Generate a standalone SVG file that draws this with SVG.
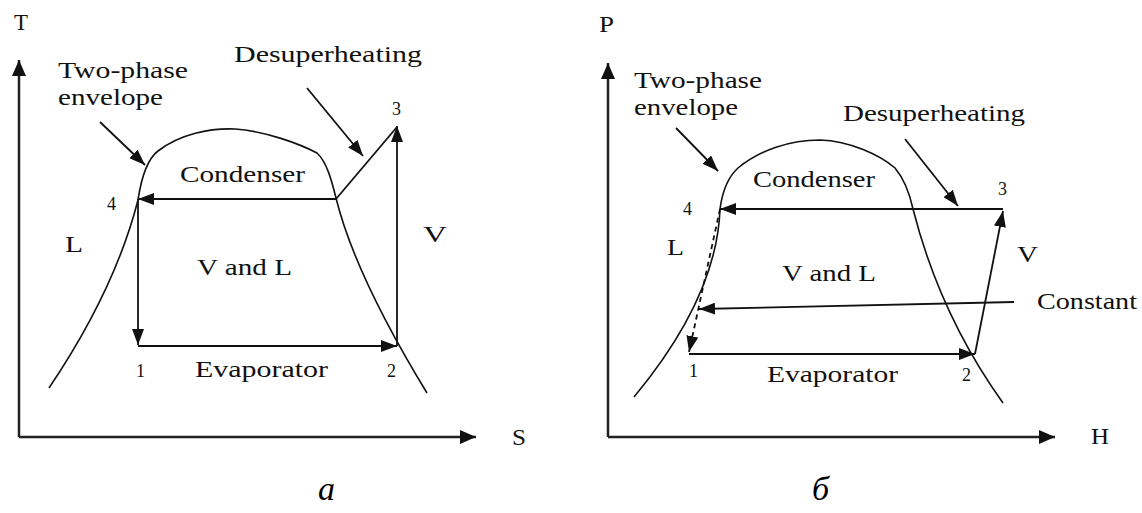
<svg xmlns="http://www.w3.org/2000/svg" width="1142" height="513" viewBox="0 0 1142 513">
<defs>
<style>
.t{font-family:"Liberation Serif","Times New Roman",serif;font-size:24px;fill:#111}
.n{font-family:"Liberation Serif","Times New Roman",serif;font-size:18px;fill:#111}
.ax{font-family:"Liberation Serif","Times New Roman",serif;font-size:23px;fill:#111}
.cap{font-family:"Liberation Serif","Times New Roman",serif;font-size:34px;font-style:italic;fill:#000}
.axis{fill:none;stroke:#222;stroke-width:2.5}
.ln{fill:none;stroke:#111;stroke-width:1.8}
.crv{fill:none;stroke:#111;stroke-width:1.6}
.dash{fill:none;stroke:#111;stroke-width:1.8;stroke-dasharray:5 4}
</style>
<marker id="axh" markerUnits="userSpaceOnUse" markerWidth="17" markerHeight="14" refX="16" refY="7" orient="auto"><path d="M0,0 L16,7 L0,14 z" fill="#111"/></marker>
<marker id="ah" markerUnits="userSpaceOnUse" markerWidth="17" markerHeight="12" refX="16" refY="6" orient="auto"><path d="M0,0 L16,6 L0,12 z" fill="#111"/></marker>
</defs>

<g id="axes-a">
<path class="axis" d="M19,437 L19,60" marker-end="url(#axh)"/>
<path class="axis" d="M19,437 L476,437" marker-end="url(#axh)"/>
<text class="ax" x="14" y="30" textLength="14" lengthAdjust="spacingAndGlyphs">T</text>
<text class="ax" x="512" y="445" textLength="14" lengthAdjust="spacingAndGlyphs">S</text>
</g>

<g id="envelope-a">
<path class="crv" d="M49,388 Q115,290 138,200 C141,180 146,160 158,151 C180,134 210,128 235,129 C265,131 300,144 317,153 C327,162 332,182 336,198 Q355,275 427,393"/>
</g>

<g id="labels-a">
<text class="t" x="58" y="78" textLength="130" lengthAdjust="spacingAndGlyphs">Two-phase</text>
<text class="t" x="58" y="105" textLength="105" lengthAdjust="spacingAndGlyphs">envelope</text>
<text class="t" x="234" y="62" textLength="188" lengthAdjust="spacingAndGlyphs">Desuperheating</text>
<text class="t" x="180" y="182" textLength="125" lengthAdjust="spacingAndGlyphs">Condenser</text>
<text class="t" x="65" y="252" textLength="18" lengthAdjust="spacingAndGlyphs">L</text>
<text class="t" x="423" y="242" textLength="24" lengthAdjust="spacingAndGlyphs">V</text>
<text class="t" x="197" y="275" textLength="95" lengthAdjust="spacingAndGlyphs">V and L</text>
<text class="t" x="195" y="377" textLength="133" lengthAdjust="spacingAndGlyphs">Evaporator</text>
<text class="n" x="392" y="115">3</text>
<text class="n" x="107" y="210">4</text>
<text class="n" x="136" y="377">1</text>
<text class="n" x="387" y="377">2</text>
</g>

<g id="connectors-a">
<path class="ln" d="M336,199 L138,199" marker-end="url(#ah)"/>
<path class="ln" d="M336,199 L397,127"/>
<path class="ln" d="M138,199 L138,345" marker-end="url(#ah)"/>
<path class="ln" d="M138,346 L397,346" marker-end="url(#ah)"/>
<path class="ln" d="M397,346 L397,126" marker-end="url(#ah)"/>
<path class="ln" d="M100,122 L145,165" marker-end="url(#ah)"/>
<path class="ln" d="M307,88 L363,156" marker-end="url(#ah)"/>
</g>

<g id="axes-b">
<path class="axis" d="M608,437 L608,63" marker-end="url(#axh)"/>
<path class="axis" d="M608,437 L1055,437" marker-end="url(#axh)"/>
<text class="ax" x="599" y="32" textLength="15" lengthAdjust="spacingAndGlyphs">P</text>
<text class="ax" x="1091" y="444" textLength="18" lengthAdjust="spacingAndGlyphs">H</text>
</g>

<g id="envelope-b">
<path class="crv" d="M634,397 Q717,297 720,209 C722,194 727,178 738,168 C760,150 790,140 820,140 C850,141 880,155 895,168 C905,180 910,195 913,209 Q940,315 1003,403"/>
</g>

<g id="labels-b">
<text class="t" x="634" y="88" textLength="128" lengthAdjust="spacingAndGlyphs">Two-phase</text>
<text class="t" x="634" y="115" textLength="104" lengthAdjust="spacingAndGlyphs">envelope</text>
<text class="t" x="843" y="121" textLength="182" lengthAdjust="spacingAndGlyphs">Desuperheating</text>
<text class="t" x="753" y="187" textLength="122" lengthAdjust="spacingAndGlyphs">Condenser</text>
<text class="t" x="667" y="255" textLength="17" lengthAdjust="spacingAndGlyphs">L</text>
<text class="t" x="1017" y="262" textLength="21" lengthAdjust="spacingAndGlyphs">V</text>
<text class="t" x="782" y="281" textLength="94" lengthAdjust="spacingAndGlyphs">V and L</text>
<text class="t" x="1037" y="309" textLength="100" lengthAdjust="spacingAndGlyphs">Constant</text>
<text class="t" x="767" y="382" textLength="131" lengthAdjust="spacingAndGlyphs">Evaporator</text>
<text class="n" x="998" y="195">3</text>
<text class="n" x="683" y="215">4</text>
<text class="n" x="689" y="377">1</text>
<text class="n" x="962" y="381">2</text>
</g>

<g id="connectors-b">
<path class="ln" d="M1003,209 L720,209" marker-end="url(#ah)"/>
<path class="ln" d="M975,354 L1003,211" marker-end="url(#ah)"/>
<path class="dash" d="M720,209 L689,352" marker-end="url(#ah)"/>
<path class="ln" d="M689,354 L975,354" marker-end="url(#ah)"/>
<path class="ln" d="M1014,302 L699,309" marker-end="url(#ah)"/>
<path class="ln" d="M676,128 L718,171" marker-end="url(#ah)"/>
<path class="ln" d="M905,139 L958,206" marker-end="url(#ah)"/>
</g>

<g id="captions">
<text class="cap" x="318" y="500">а</text>
<text class="cap" x="812" y="500">б</text>
</g>
</svg>
